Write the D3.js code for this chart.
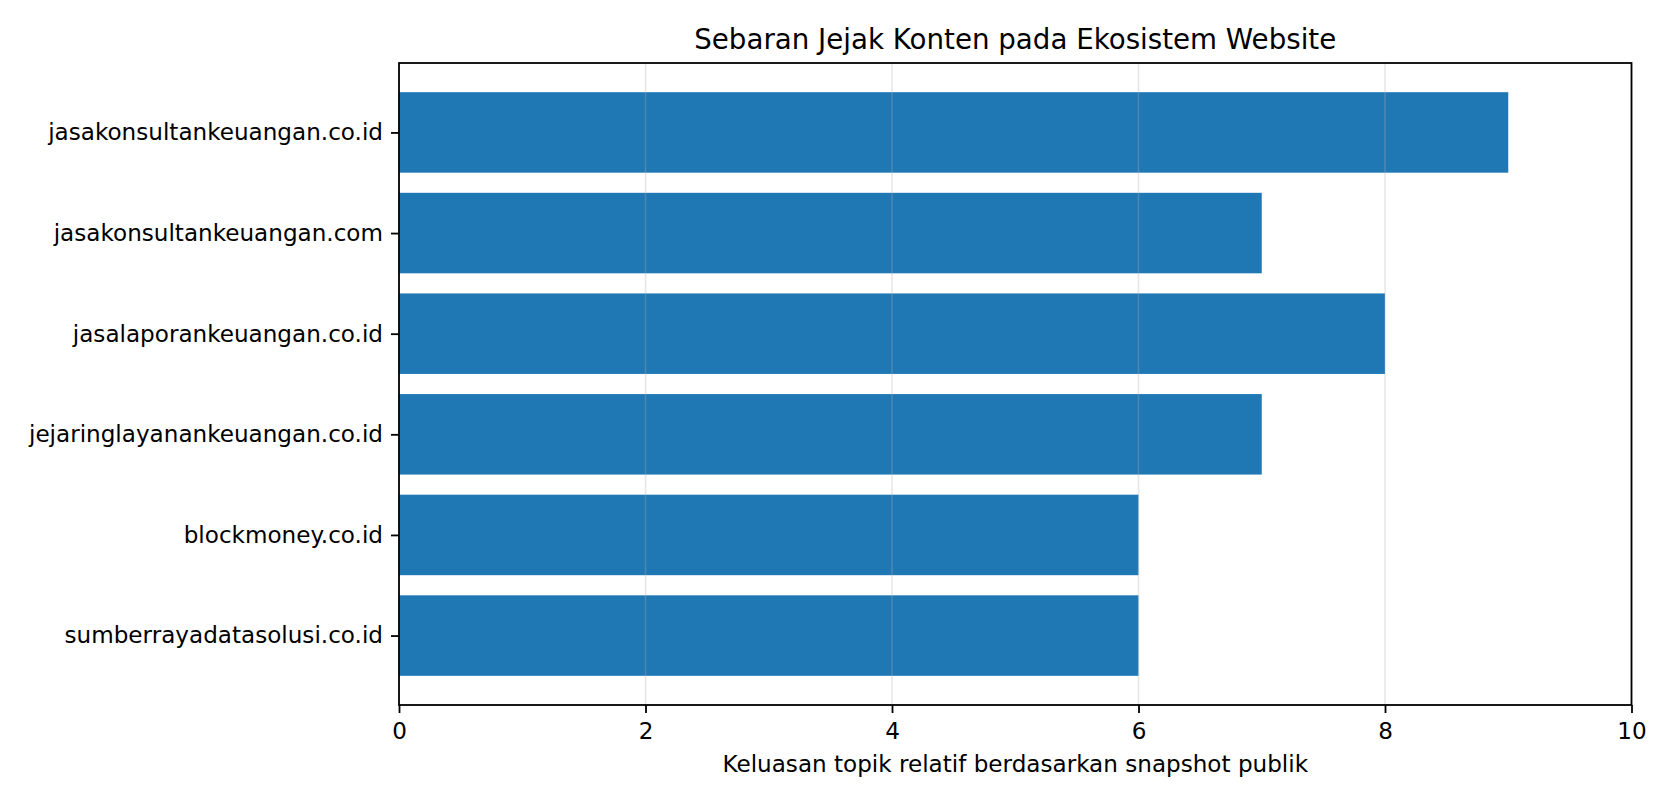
<!DOCTYPE html>
<html><head><meta charset="utf-8">
<script src="https://cdn.jsdelivr.net/npm/d3@7"></script>
<style>html,body{margin:0;padding:0;background:#fff;}svg{display:block;font-family:"DejaVu Sans",sans-serif;}</style>
</head><body><div id="chart"></div>
<script>
const categories = ["jasakonsultankeuangan.co.id","jasakonsultankeuangan.com","jasalaporankeuangan.co.id","jejaringlayanankeuangan.co.id","blockmoney.co.id","sumberrayadatasolusi.co.id"];
const values = [9,7,8,7,6,6];
const xTicks = [0,2,4,6,8,10];
const title = "Sebaran Jejak Konten pada Ekosistem Website";
const xLabel = "Keluasan topik relatif berdasarkan snapshot publik";

const W=1672,H=803;
const m={left:399,right:W-1631.5,top:63,bottom:H-705};
const svg=d3.select("#chart").append("svg").attr("width",W).attr("height",H);
const iw=W-m.left-m.right, ih=H-m.top-m.bottom;
const g=svg.append("g").attr("transform",`translate(${m.left},${m.top})`);
const x=d3.scaleLinear().domain([0,10]).range([0,iw]);
const n=categories.length;
const y=d3.scaleLinear().domain([-0.4-0.05*(n-0.2), n-1+0.4+0.05*(n-0.2)]).range([0,ih]);
const barH=y(0.4)-y(-0.4);

g.selectAll("rect.bar").data(values).enter().append("rect").attr("class","bar")
 .attr("x",x(0)).attr("y",(d,i)=>y(i-0.4)).attr("width",d=>x(d)-x(0)).attr("height",barH).attr("fill","#1f77b4");

g.selectAll("line.grid").data(xTicks).enter().append("line").attr("class","grid")
 .attr("x1",d=>x(d)).attr("x2",d=>x(d)).attr("y1",0).attr("y2",ih)
 .attr("stroke","#b0b0b0").attr("stroke-opacity",0.3).attr("stroke-width",1.6);

const FS=23.1;
const xa=g.append("g").attr("transform",`translate(0,${ih})`)
 .call(d3.axisBottom(x).tickValues(xTicks).tickFormat(d3.format("d")).tickSize(8).tickPadding(8));
const ya=g.append("g").call(d3.axisLeft(d3.scaleOrdinal().domain(categories).range(categories.map((c,i)=>y(i)))).tickSize(8).tickPadding(8));
[xa,ya].forEach(a=>{a.select(".domain").remove();a.selectAll("line").attr("stroke","#000").attr("stroke-width",1.8);a.selectAll("text").attr("font-size",FS).attr("fill","#000").attr("font-family","DejaVu Sans");});
xa.selectAll("text").attr("dy","0.76em");

g.append("rect").attr("x",0).attr("y",0).attr("width",iw).attr("height",ih).attr("fill","none").attr("stroke","#000").attr("stroke-width",1.8);

svg.append("text").attr("x",m.left+iw/2).attr("y",39.5).attr("dy","0.35em").attr("text-anchor","middle").attr("font-size",27.7).text(title);
svg.append("text").attr("x",m.left+iw/2).attr("y",763.5).attr("dy","0.35em").attr("text-anchor","middle").attr("font-size",FS).text(xLabel);
</script></body></html>
